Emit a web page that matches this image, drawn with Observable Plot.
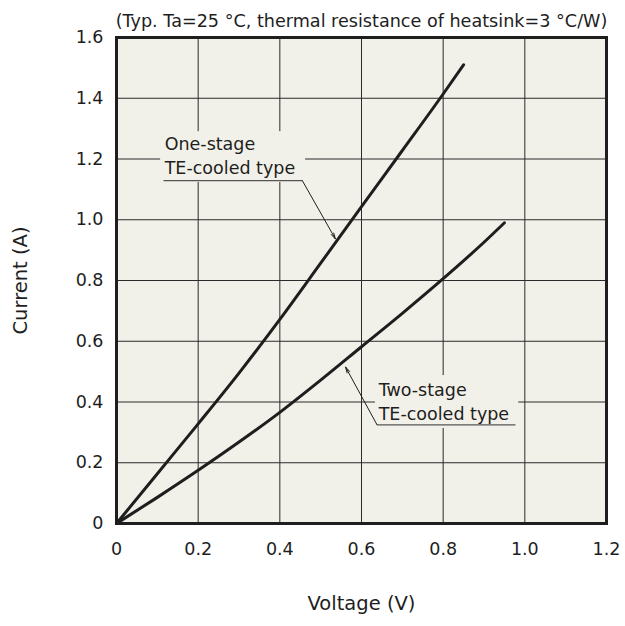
<!DOCTYPE html>
<html>
<head>
<meta charset="utf-8">
<script src="https://cdn.jsdelivr.net/npm/d3@7"></script>
<script src="https://cdn.jsdelivr.net/npm/@observablehq/plot@0.6"></script>
<style>
  html, body { margin: 0; padding: 0; background: #ffffff; }
  #chart svg { display: block; }
</style>
</head>
<body>
<div id="chart"></div>
<script>
// ---- Data ----
const oneStageVoltage = [0, 0.1, 0.2, 0.3, 0.4, 0.5, 0.6, 0.7, 0.8, 0.85];
const oneStageCurrent = [0, 0.164, 0.328, 0.495, 0.672, 0.857, 1.043, 1.228, 1.414, 1.51];
const twoStageVoltage = [0, 0.1, 0.2, 0.3, 0.4, 0.5, 0.6, 0.7, 0.8, 0.9, 0.95];
const twoStageCurrent = [0, 0.086, 0.175, 0.268, 0.366, 0.472, 0.582, 0.692, 0.806, 0.926, 0.99];

const xTicks = [0, 0.2, 0.4, 0.6, 0.8, 1.0, 1.2];
const xTickLabels = ["0", "0.2", "0.4", "0.6", "0.8", "1.0", "1.2"];
const yTicks = [0, 0.2, 0.4, 0.6, 0.8, 1.0, 1.2, 1.4, 1.6];
const yTickLabels = ["0", "0.2", "0.4", "0.6", "0.8", "1.0", "1.2", "1.4", "1.6"];

const titleText = "(Typ. Ta=25 °C, thermal resistance of heatsink=3 °C/W)";
const xLabel = "Voltage (V)";
const yLabel = "Current (A)";

// Annotation labels (anchor positions in data units: volts, amperes)
const labelNames = ["One-stage\nTE-cooled type", "Two-stage\nTE-cooled type"];
const labelTextV = [0.118, 0.642];
const labelTextI = [1.151, 0.342];
const labelBoxV1 = [0.108, 0.634];
const labelBoxV2 = [0.463, 0.985];
const labelBoxI1 = [1.123, 0.313];
const labelBoxI2 = [1.290, 0.487];
const underlineV1 = [0.115, 0.638];
const underlineV2 = [0.455, 0.977];
const underlineI = [1.129, 0.325];
const leaderFromV = [0.455, 0.638];
const arrowTipV = [0.536, 0.561];
const arrowTipI = [0.937, 0.515];

// ---- Build tables ----
const lines = [
  ...oneStageVoltage.map((v, i) => ({series: "one", V: v, I: oneStageCurrent[i]})),
  ...twoStageVoltage.map((v, i) => ({series: "two", V: v, I: twoStageCurrent[i]}))
];
const labels = labelNames.map((t, i) => ({
  text: t, tv: labelTextV[i], ti: labelTextI[i],
  bx1: labelBoxV1[i], bx2: labelBoxV2[i], by1: labelBoxI1[i], by2: labelBoxI2[i],
  u1: underlineV1[i], u2: underlineV2[i], ui: underlineI[i],
  lv: leaderFromV[i], av: arrowTipV[i], ai: arrowTipI[i]
}));

const BG = "#f2f1e9";
const INK = "#1e1e1e";
const FONT = "'DejaVu Sans', sans-serif";

const chart = Plot.plot({
  width: 625,
  height: 626,
  marginLeft: 116,
  marginRight: 19,
  marginTop: 37,
  marginBottom: 103,
  style: {fontFamily: FONT, background: "#ffffff", color: INK},
  x: {domain: [0, 1.2]},
  y: {domain: [0, 1.6]},
  marks: [
    Plot.frame({fill: BG, stroke: null}),
    Plot.gridX(xTicks, {stroke: "#2a2a2a", strokeOpacity: 1, strokeWidth: 1}),
    Plot.gridY(yTicks, {stroke: "#2a2a2a", strokeOpacity: 1, strokeWidth: 1}),
    Plot.rect(labels, {x1: "bx1", x2: "bx2", y1: "by1", y2: "by2", fill: BG}),
    Plot.line(lines, {x: "V", y: "I", z: "series", stroke: INK, strokeWidth: 3, curve: "monotone-x"}),
    Plot.link(labels, {x1: "u1", x2: "u2", y1: "ui", y2: "ui", stroke: "#555", strokeWidth: 1.2}),
    Plot.arrow(labels, {x1: "lv", y1: "ui", x2: "av", y2: "ai", stroke: INK, strokeWidth: 1, headLength: 9, headAngle: 28}),
    Plot.text(labels, {x: "tv", y: "ti", text: "text", textAnchor: "start", lineAnchor: "bottom", lineHeight: 1.37, fontSize: 17.5, fill: INK}),
    Plot.frame({stroke: INK, strokeWidth: 3}),
    Plot.axisX(xTicks, {tickSize: 0, tickPadding: 0, tickFormat: (d, i) => xTickLabels[i], fontSize: 17.5, dy: 19, label: null}),
    Plot.axisY(yTicks, {tickSize: 0, tickPadding: 13, tickFormat: (d, i) => yTickLabels[i], fontSize: 17.5, label: null}),
    Plot.text([titleText], {frameAnchor: "top", dy: -11, lineAnchor: "bottom", fontSize: 17.6, fill: INK}),
    Plot.text([xLabel], {frameAnchor: "bottom", dy: 86, fontSize: 19.5, fill: INK}),
    Plot.text([yLabel], {frameAnchor: "left", textAnchor: "middle", dx: -96, rotate: -90, fontSize: 19.5, fill: INK})
  ]
});
document.getElementById("chart").appendChild(chart);
</script>
</body>
</html>
